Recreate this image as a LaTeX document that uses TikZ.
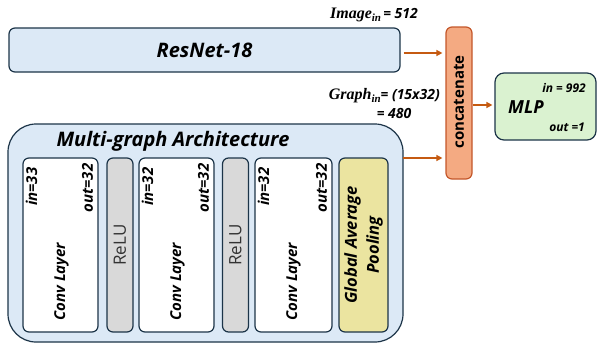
\documentclass[tikz,border=0pt]{standalone}
\usepackage{amsmath, amssymb}
\usepackage{fontspec}
\setmainfont{Open Sans}
\newfontfamily\mathlike{Liberation Serif}
\usetikzlibrary{arrows.meta, calc, positioning}
\definecolor{boxline}{HTML}{1C3448}
\definecolor{bluefill}{HTML}{DCE9F6}
\definecolor{catfill}{HTML}{F4AA82}
\definecolor{catline}{HTML}{C4572A}
\definecolor{mlpfill}{HTML}{DAF2D0}
\definecolor{relufill}{HTML}{D9D9D9}
\definecolor{gapfill}{HTML}{EBE4A0}
\definecolor{arrowc}{HTML}{C55A11}
\newcommand{\bi}[1]{\fontsize{#1}{#1}\selectfont\bfseries\itshape}
\newcommand{\var}[2]{{\mathlike\fontsize{16}{16}\selectfont\bfseries\itshape #1%
    \raisebox{-0.35ex}{\fontsize{11}{11}\selectfont #2}}}

\begin{document}
\begin{tikzpicture}[x=1pt, y=-1pt,
    box/.style={draw=boxline, line width=1.2pt, rounded corners=6pt, inner sep=0pt},
    layer/.style={box, fill=white, minimum width=75pt, minimum height=174pt},
    relu/.style={box, fill=relufill, rotate=90, minimum width=174pt, minimum height=26pt,
        text=black!80, font=\fontsize{17}{17}\selectfont},
    tag/.style={rotate=90, inner sep=0pt, font=\bi{15}},
    flow/.style={draw=arrowc, line width=1.5pt, -{Triangle[length=6pt, width=6pt]}},
]
\useasboundingbox (0,0) rectangle (597,343);

% image branch
\node[box, fill=bluefill, minimum width=391pt, minimum height=44pt, font=\bi{20}]
    (resnet) at (204.5,50) {ResNet-18};

% graph branch
\node[box, fill=bluefill, rounded corners=28pt, minimum width=395pt, minimum height=218pt]
    (multi) at (205.5,233) {};
\node[font=\bi{20}] (title) at (173,141) {Multi-graph Architecture};

\node[layer] (c1) at (60.5,245) {};
\node[relu] (r1) at (120,245) {ReLU};
\node[layer] (c2) at (176.5,245) {};
\node[relu] (r2) at (235.5,245) {ReLU};
\node[layer, minimum width=77pt] (c3) at (293.5,245) {};
\node[box, fill=gapfill, minimum width=49pt, minimum height=174pt] (gap) at (363.5,245) {};
\node[rotate=90, align=center, font=\fontsize{16.5}{22}\selectfont\bfseries\itshape]
    (gaptxt) at (gap) {Global Average\\Pooling};

\foreach \c/\i in {c1/33, c2/32, c3/32} {
    \node[tag, anchor=east] (\c-in) at ($(\c.north west)+(9,10)$) {in=\i};
    \node[tag, anchor=east] (\c-out) at ($(\c.north east)+(-11,6)$) {out=32};
    \node[tag] (\c-name) at ($(\c.south west)+(39,-51)$) {Conv Layer};
}

% fusion
\node[box, draw=catline, fill=catfill, minimum width=26pt, minimum height=152pt]
    (concat) at (459,103) {};
\node[rotate=90, font=\fontsize{15}{15}\selectfont\bfseries] (cattxt) at (459,102) {concatenate};

\node[box, fill=mlpfill, rounded corners=9pt, minimum width=101pt, minimum height=67pt]
    (mlp) at (545.5,106.5) {};
\node[font=\bi{18}, anchor=west, inner sep=0pt] (mlptxt) at (508,107) {MLP};
\node[font=\bi{12}, anchor=east, inner sep=0pt] (mlpin) at (586,88) {in = 992};
\node[font=\bi{12}, anchor=east, inner sep=0pt] (mlpout) at (585,127) {out =1};

% sizes
\node[font=\bi{14}] (imglbl) at (374,15) {\var{Image}{in}\,= 512};
\node[font=\bi{14}, anchor=east, inner sep=0pt] (ginlbl) at (440,96)
    {\var{Graph}{in}= (15x32)};
\node[font=\bi{14}] (ginval) at (394,113) {= 480};

\coordinate (gout) at (403,158);
\draw[flow] ($(resnet.east)+(3,3)$) -- ($(resnet.east -| concat.west)+(-3,3)$);
\draw[flow] (gout) -- ($(gout -| concat.west)+(-3,0)$);
\draw[flow] (concat.east |- 0,105) -- ($(mlp.west |- 0,105)+(-2,0)$);
\end{tikzpicture}
\end{document}
